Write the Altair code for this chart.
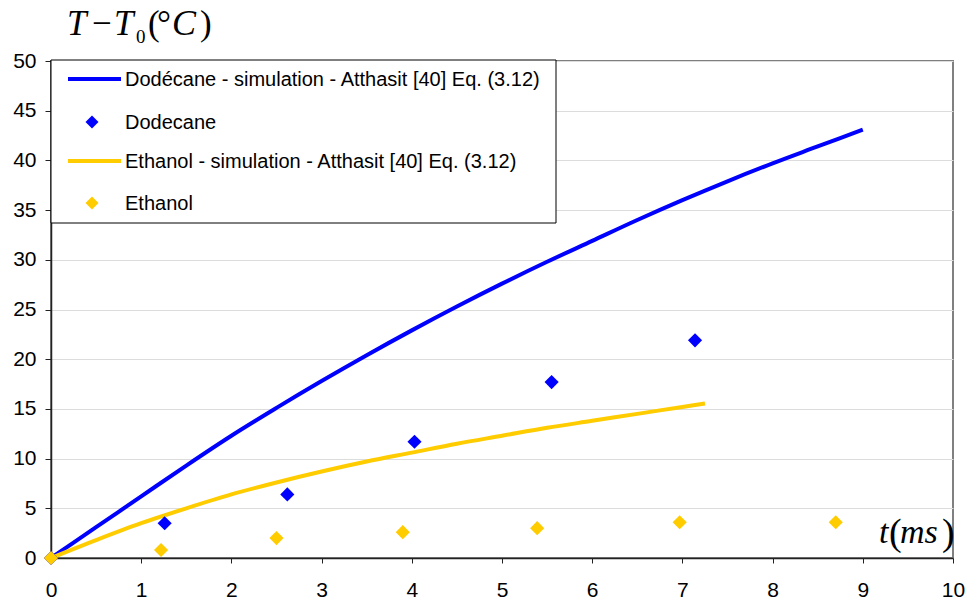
import altair as alt
import pandas as pd

# ---- data ----
dod_sim_t = [0, 0.5, 1, 1.5, 2, 2.5, 3, 3.5, 4, 4.5, 5, 5.5, 6, 6.5, 7, 7.5, 8, 8.5, 9]
dod_sim_T = [0, 3.1, 6.2, 9.3, 12.3, 15.1, 17.8, 20.4, 22.9, 25.3, 27.6, 29.8, 31.9, 34.0, 36.0, 37.9, 39.7, 41.4, 43.1]

eth_sim_t = [0, 0.5, 1, 1.5, 2, 2.5, 3, 3.5, 4, 4.5, 5, 5.5, 6, 6.5, 7, 7.25]
eth_sim_T = [0, 1.8, 3.5, 5.0, 6.4, 7.6, 8.7, 9.7, 10.6, 11.5, 12.3, 13.1, 13.8, 14.5, 15.2, 15.55]

dod_exp_t = [0, 1.26, 2.62, 4.03, 5.55, 7.14]
dod_exp_T = [0, 3.5, 6.4, 11.7, 17.7, 21.9]

eth_exp_t = [0, 1.22, 2.50, 3.90, 5.39, 6.97, 8.70]
eth_exp_T = [0, 0.8, 2.0, 2.6, 3.0, 3.6, 3.6]

x_ticks = list(range(0, 11))
y_ticks = list(range(0, 51, 5))

legend_labels = [
    "Dodécane - simulation - Atthasit [40] Eq. (3.12)",
    "Dodecane",
    "Ethanol - simulation - Atthasit [40] Eq. (3.12)",
    "Ethanol",
]

BLUE = "#0000FF"
YELLOW = "#FFCC00"
SANS = "Liberation Sans"
SERIF = "Liberation Serif"

x_scale = alt.Scale(domain=[0, 10], nice=False, zero=False)
y_scale = alt.Scale(domain=[0, 50], nice=False)

x_axis = alt.Axis(values=x_ticks, format="d", grid=False, title=None, labelFontSize=21, labelFont=SANS,
                  labelColor="black", tickColor="#222222", tickSize=5, labelPadding=16,
                  domainColor="#222222", domainWidth=1.5, labelFlush=False)
y_axis = alt.Axis(values=y_ticks, format="d", grid=True, gridColor="#DCDCDC", gridWidth=1, title=None,
                  labelFontSize=21, labelFont=SANS, labelColor="black", tickColor="#222222",
                  tickSize=6, labelPadding=9, domainColor="#222222", domainWidth=1.5)

def df(t, v):
    return pd.DataFrame({"t": t, "T": v})

dod_line = alt.Chart(df(dod_sim_t, dod_sim_T)).mark_line(
    color=BLUE, strokeWidth=4, interpolate="monotone").encode(
    x=alt.X("t:Q", scale=x_scale, axis=x_axis),
    y=alt.Y("T:Q", scale=y_scale, axis=y_axis))

eth_line = alt.Chart(df(eth_sim_t, eth_sim_T)).mark_line(
    color=YELLOW, strokeWidth=4, interpolate="monotone").encode(
    x=alt.X("t:Q", scale=x_scale), y=alt.Y("T:Q", scale=y_scale))

dod_pts = alt.Chart(df(dod_exp_t, dod_exp_T)).mark_point(
    shape="diamond", filled=True, color=BLUE, size=200, opacity=1).encode(
    x=alt.X("t:Q", scale=x_scale), y=alt.Y("T:Q", scale=y_scale))

eth_pts = alt.Chart(df(eth_exp_t, eth_exp_T)).mark_point(
    shape="diamond", filled=True, color=YELLOW, size=200, opacity=1).encode(
    x=alt.X("t:Q", scale=x_scale), y=alt.Y("T:Q", scale=y_scale))

one = pd.DataFrame({"k": [0]})

legend_box = alt.Chart(one).mark_rect(fill="white", stroke="black", strokeWidth=1).encode(
    x=alt.value(0), x2=alt.value(505), y=alt.value(-1), y2=alt.value(162))

row_y = [18, 61, 100, 142]
legend_layers = []
for i, (lab, col) in enumerate(zip(legend_labels, [BLUE, BLUE, YELLOW, YELLOW])):
    if i % 2 == 0:
        legend_layers.append(alt.Chart(one).mark_rule(color=col, strokeWidth=4).encode(
            x=alt.value(17), x2=alt.value(70), y=alt.value(row_y[i])))
    else:
        legend_layers.append(alt.Chart(one).mark_point(
            shape="diamond", filled=True, color=col, size=170, opacity=1).encode(
            x=alt.value(41), y=alt.value(row_y[i])))
    legend_layers.append(alt.Chart(one).mark_text(
        align="left", baseline="middle", font=SANS, fontSize=20, color="black").encode(
        x=alt.value(74), y=alt.value(row_y[i] + 1), text=alt.value(lab)))

def txt(s, x, y, size, italic=True):
    return alt.Chart(one).mark_text(
        align="left", baseline="alphabetic", font=SERIF, fontSize=size,
        fontStyle="italic" if italic else "normal", color="black").encode(
        x=alt.value(x), y=alt.value(y), text=alt.value(s))

title_parts = [
    txt("T", 16, -26, 35),
    txt("\u2212", 41, -26, 35, italic=False),
    txt("T", 63, -26, 35),
    txt("0", 85, -18, 19, italic=False),
    txt("(", 97, -26, 35, italic=False),
    txt("\u00b0", 106, -26, 35, italic=False),
    txt("C", 121, -26, 36),
    txt(")", 149, -26, 35, italic=False),
]

t_parts = [
    txt("t", 828, 482, 34),
    txt("(", 838, 484, 38, italic=False),
    txt("ms", 849, 482, 34),
    txt(")", 891, 484, 38, italic=False),
]

chart = alt.layer(
    dod_line, eth_line, dod_pts, eth_pts, legend_box, *legend_layers, *title_parts, *t_parts
).properties(
    width=902, height=497,
    padding={"left": 43, "top": 53, "right": 12, "bottom": 45},
    autosize=alt.AutoSizeParams(type="none"),
).configure_view(stroke="#808080", strokeWidth=2)

chart.save("out.html", embed_options={"renderer": "svg", "actions": False})
